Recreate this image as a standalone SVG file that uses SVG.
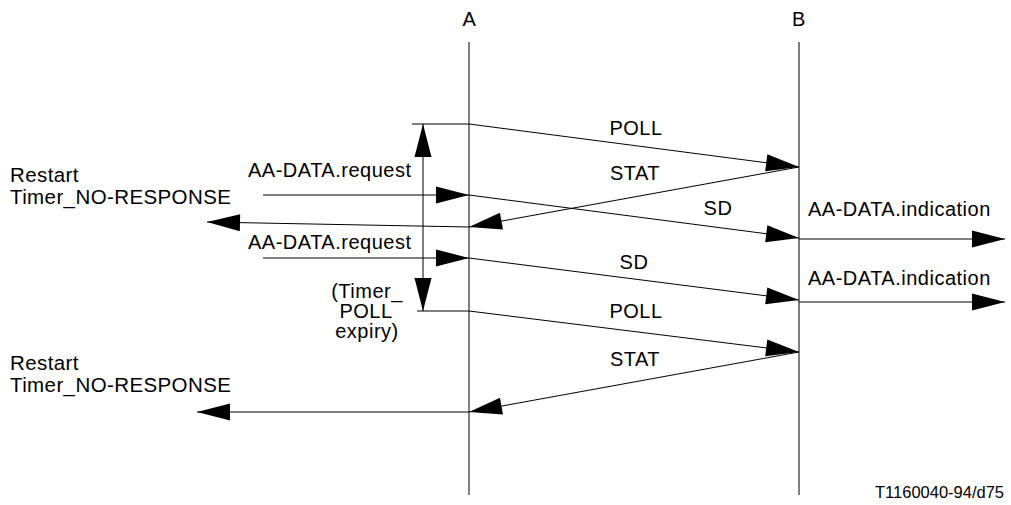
<svg xmlns="http://www.w3.org/2000/svg" width="1011" height="505" viewBox="0 0 1011 505">
<style>
.t{font-family:"Liberation Sans",Arial,sans-serif;font-size:20px;fill:#000;letter-spacing:0.5px}
.m{text-anchor:middle}
.ln{stroke:#000;stroke-width:1;fill:none}
.ar{stroke:#000;stroke-width:1;fill:none;marker-end:url(#ah)}
</style>
<defs>
<marker id="ah" markerUnits="userSpaceOnUse" markerWidth="40" markerHeight="20" refX="33" refY="8.5" orient="auto-start-reverse" overflow="visible">
<path d="M0,0 L33,8.5 L0,17 z" fill="#000"/>
</marker>
</defs>
<g id="lifeline-A">
<line class="ln" x1="469" y1="42" x2="469" y2="495"/>
<text class="t m" x="469.5" y="26">A</text>
</g>
<g id="lifeline-B">
<line class="ln" x1="799" y1="42" x2="799" y2="495"/>
<text class="t m" x="799" y="26">B</text>
</g>
<g id="timer-poll">
<line class="ln" x1="412" y1="124" x2="469" y2="124"/>
<line class="ln" x1="417" y1="311" x2="469" y2="311"/>
<line class="ln" x1="423" y1="124" x2="423" y2="311" style="marker-start:url(#ah);marker-end:url(#ah)"/>
<text class="t m" x="367" y="298">(Timer_</text>
<text class="t m" x="366" y="318">POLL</text>
<text class="t m" x="367" y="338">expiry)</text>
</g>
<g id="labels-left">
<text class="t" x="10" y="182" style="font-size:20.5px;letter-spacing:0.4px">Restart</text>
<text class="t" x="10" y="204" style="font-size:20.5px;letter-spacing:0.4px">Timer_NO-RESPONSE</text>
<text class="t" x="10" y="370" style="font-size:20.5px;letter-spacing:0.4px">Restart</text>
<text class="t" x="10" y="392" style="font-size:20.5px;letter-spacing:0.4px">Timer_NO-RESPONSE</text>
<text class="t" x="248" y="177">AA-DATA.request</text>
<text class="t" x="248" y="249">AA-DATA.request</text>
</g>
<g id="labels-right">
<text class="t" x="808" y="216">AA-DATA.indication</text>
<text class="t" x="808" y="285">AA-DATA.indication</text>
</g>
<g id="connectors">
<line class="ar" x1="469" y1="124" x2="799" y2="167"/>
<line class="ar" x1="799" y1="167" x2="469" y2="227"/>
<line class="ar" x1="263" y1="195" x2="469" y2="195"/>
<line class="ar" x1="469" y1="195" x2="799" y2="238"/>
<line class="ar" x1="469" y1="227" x2="207" y2="222"/>
<line class="ar" x1="799" y1="239" x2="1005" y2="239"/>
<line class="ar" x1="263" y1="258" x2="469" y2="258"/>
<line class="ar" x1="469" y1="258" x2="799" y2="300"/>
<line class="ar" x1="799" y1="302" x2="1005" y2="302"/>
<line class="ar" x1="469" y1="311" x2="799" y2="352"/>
<line class="ar" x1="799" y1="352" x2="469" y2="412"/>
<line class="ar" x1="469" y1="412" x2="197" y2="412"/>
<text class="t m" x="636" y="135">POLL</text>
<text class="t m" x="635" y="180">STAT</text>
<text class="t m" x="718" y="215">SD</text>
<text class="t m" x="634" y="269">SD</text>
<text class="t m" x="636" y="318">POLL</text>
<text class="t m" x="635" y="366">STAT</text>
</g>
<text class="t" x="875" y="498" style="font-size:16.5px;letter-spacing:0">T1160040-94/d75</text>
</svg>
